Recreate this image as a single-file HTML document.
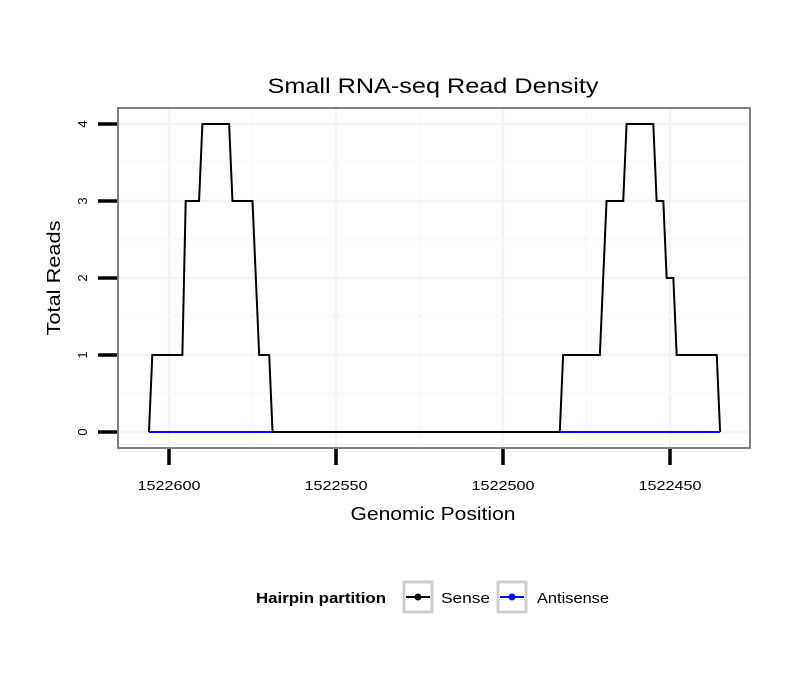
<!DOCTYPE html>
<html><head><meta charset="utf-8"><style>
body{margin:0;background:#fff;}
svg text{font-family:"Liberation Sans",sans-serif;}
</style></head><body>
<svg id="chart" width="810" height="690">
<text x="433" y="93" text-anchor="middle" font-size="21" textLength="331" lengthAdjust="spacingAndGlyphs">Small RNA-seq Read Density</text>
<g id="grid"></g>
<g id="series"></g>
<rect x="118" y="108" width="632" height="340" fill="none" stroke="#7f7f7f" stroke-width="2"/>
<g id="axes"></g>
<text x="433" y="520" text-anchor="middle" font-size="18" textLength="165" lengthAdjust="spacingAndGlyphs">Genomic Position</text>
<text transform="translate(60,278) rotate(-90)" text-anchor="middle" font-size="18" textLength="115" lengthAdjust="spacingAndGlyphs">Total Reads</text>
<g>
<text x="256" y="603" font-size="15" font-weight="bold" textLength="130" lengthAdjust="spacingAndGlyphs">Hairpin partition</text>
<g>
<rect x="404" y="582" width="28" height="30" fill="#fff" stroke="#ccc" stroke-width="3"/>
<line x1="406" y1="597" x2="430" y2="597" stroke="#000" stroke-width="2"/><circle cx="418" cy="597" r="3.5" fill="#000"/>
<text x="441" y="603" font-size="15" textLength="49" lengthAdjust="spacingAndGlyphs">Sense</text></g>
<g>
<rect x="498" y="582" width="28" height="30" fill="#fff" stroke="#ccc" stroke-width="3"/>
<line x1="500" y1="597" x2="524" y2="597" stroke="#00f" stroke-width="2"/><circle cx="512" cy="597" r="3.5" fill="#00f"/>
<text x="537" y="603" font-size="15" textLength="72" lengthAdjust="spacingAndGlyphs">Antisense</text></g>
</g>
</svg>
<script>
const xTicks=[1522600,1522550,1522500,1522450];
const yTicks=[0,1,2,3,4];
const sensePos=[1522606,1522605,1522596,1522595,1522591,1522590,1522582,1522581,1522575,1522573,1522570,1522569,1522483,1522482,1522471,1522469,1522464,1522463,1522455,1522454,1522452,1522451,1522449,1522448,1522436,1522435];
const senseVal=[0,1,1,3,3,4,4,3,3,1,1,0,0,1,1,3,3,4,4,3,3,2,2,1,1,0];
const antiPos1=[1522606,1522569];
const antiVal1=[0,0];
const antiPos2=[1522483,1522435];
const antiVal2=[0,0];
const NS='http://www.w3.org/2000/svg';
const X=v=>169-(v-1522600)*3.34;
const Y=v=>432-v*77;
function mk(t,a,p){const e=document.createElementNS(NS,t);for(const k in a)e.setAttribute(k,a[k]);p.appendChild(e);return e;}
const grid=document.getElementById('grid'),ser=document.getElementById('series'),ax=document.getElementById('axes');
mk('rect',{x:118,y:108,width:632,height:340,fill:'#fff'},grid);
for(let i=0;i<xTicks.length;i++){
 const x=X(xTicks[i]);
 const g=mk('line',{x1:x,x2:x,y1:108,y2:448,stroke:'#f4f4f4','stroke-width':2.5},grid);
 
 
 if(i<xTicks.length-1){const xm=X((xTicks[i]+xTicks[i+1])/2);mk('line',{x1:xm,x2:xm,y1:108,y2:448,stroke:'#fafafa','stroke-width':2},grid);}
 const t=mk('line',{x1:x,x2:x,y1:449,y2:465,stroke:'#000','stroke-width':3.5},ax);
 
 
 const l=mk('text',{x:x,y:490,'text-anchor':'middle','font-size':13,textLength:63,lengthAdjust:'spacingAndGlyphs'},ax);l.textContent=xTicks[i];
 
 
}
for(let i=0;i<yTicks.length;i++){
 const y=Y(yTicks[i]);
 const g=mk('line',{x1:118,x2:750,y1:y,y2:y,stroke:'#f4f4f4','stroke-width':2.5},grid);
 
 
 if(i<yTicks.length-1){const ym=Y((yTicks[i]+yTicks[i+1])/2);mk('line',{x1:118,x2:750,y1:ym,y2:ym,stroke:'#fafafa','stroke-width':2},grid);}
 const t=mk('line',{x1:98,x2:117,y1:y,y2:y,stroke:'#000','stroke-width':3.5},ax);
 
 
 const l=mk('text',{transform:`translate(87,${y}) rotate(-90)`,'text-anchor':'middle','font-size':13},ax);l.textContent=yTicks[i];
 
 
}
function pts(p,v){return p.map((x,i)=>X(x)+','+Y(v[i])).join(' ');}
const s=mk('polyline',{points:pts(sensePos,senseVal),fill:'none',stroke:'#000','stroke-width':2},ser);


const a1=mk('polyline',{points:pts(antiPos1,antiVal1),fill:'none',stroke:'#00f','stroke-width':2},ser);


const a2=mk('polyline',{points:pts(antiPos2,antiVal2),fill:'none',stroke:'#00f','stroke-width':2},ser);


</script>
</body></html>
